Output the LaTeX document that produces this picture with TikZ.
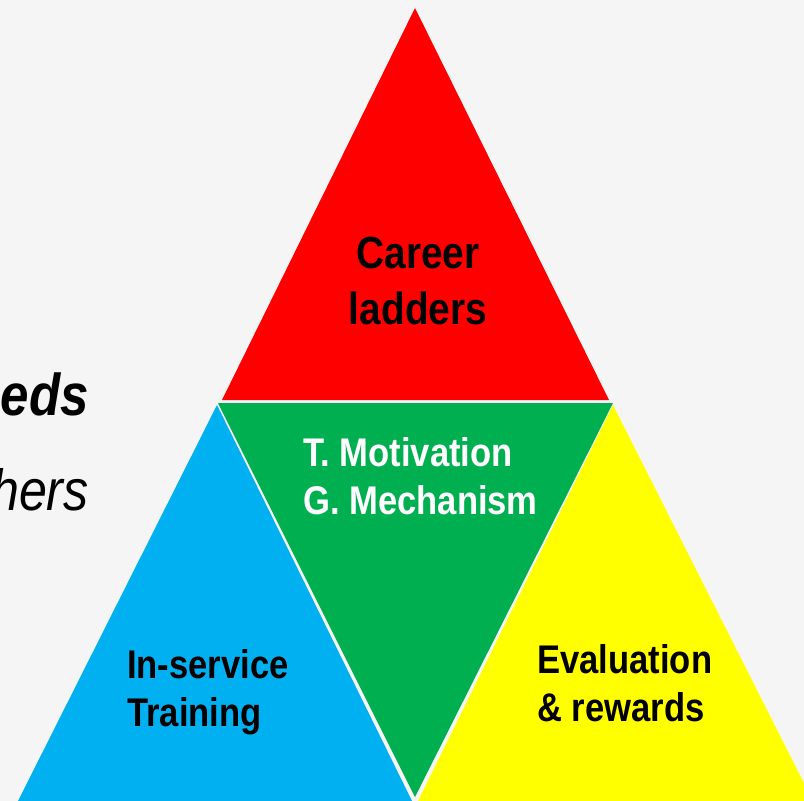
\documentclass[tikz,border=0pt]{standalone}
\usepackage{fontspec}
\setmainfont{Liberation Sans}[FakeStretch=0.865]
\usetikzlibrary{positioning}

\definecolor{paper}{RGB}{245,245,245}
\definecolor{ladderred}{RGB}{255,0,0}
\definecolor{motivgreen}{RGB}{0,176,80}
\definecolor{trainblue}{RGB}{0,176,240}
\definecolor{rewardyellow}{RGB}{255,255,0}

\begin{document}
\begin{tikzpicture}[
            x = 1pt, y = -1pt, % one unit per pixel, y going down
            every node/.style = {inner sep = 0pt}, % text sits on its anchor
            piece/.style = {draw = none}, % triangles, no outline
            big/.style = {font = \bfseries\fontsize{45}{56}\selectfont},
            mid/.style = {font = \bfseries\fontsize{40}{48}\selectfont}
        ]

        \useasboundingbox (0,0) rectangle (804,801);
        \clip (0,0) rectangle (804,801);
        \fill[paper] (0,0) rectangle (804,801);

        % left-hand text, cut by the page edge
        \node[anchor = base east, font = \bfseries\itshape\fontsize{59}{64}\selectfont] (needs) at (89,415) {eeds};
        \node[anchor = base east, font = \itshape\fontsize{58}{64}\selectfont] (others) at (89,510) {hers};

        % the four triangles
        \fill[piece, ladderred] (415,8) -- (222,400) -- (609,400) -- cycle;
        \fill[piece, motivgreen] (218,403) -- (613,403) -- (415,797) -- cycle;
        \fill[piece, trainblue] (217,405) -- (18,801) -- (412,801) -- cycle;
        \fill[piece, rewardyellow] (613,405) -- (418,801) -- (813,801) -- cycle;

        % labels
        \node[big, align = center] (career) at (418,281) {Career\\ladders};
        \node[mid, text = white, align = left, anchor = west] (motiv) at (303,476) {T. Motivation\\G. Mechanism};
        \node[mid, align = left, anchor = west] (train) at (127,692) {In-service\\Training};
        \node[mid, align = left, anchor = west] (reward) at (537,683) {Evaluation\\\& rewards};
    \end{tikzpicture}
\end{document}
